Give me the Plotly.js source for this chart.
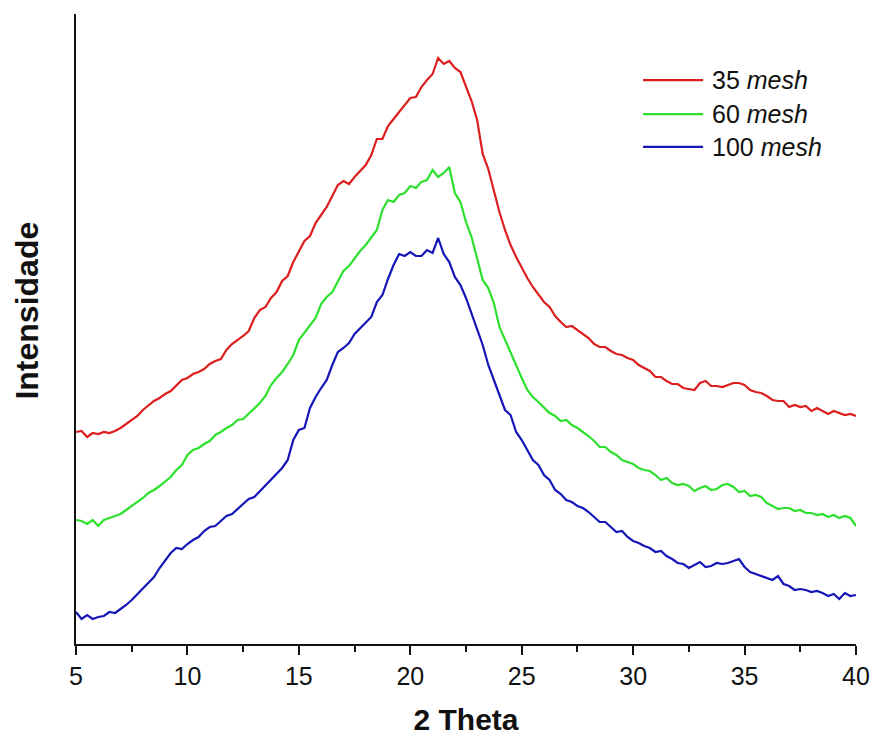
<!DOCTYPE html>
<html>
<head>
<meta charset="utf-8">
<script src="https://cdn.plot.ly/plotly-3.0.1.min.js"></script>
<style>html,body{margin:0;padding:0;background:#fff;}#chart{width:871px;height:740px;}</style>
</head>
<body>
<div id="chart"></div>
<script>
// 2 Theta values (degrees), 0.25 step from 5 to 40
var twoTheta = [];
for (var k = 0; k <= 140; k++) { twoTheta.push(5 + k * 0.25); }

// Intensity (arbitrary units, curves offset for display)
var mesh35 = [212,213,207,211,210,212,211,213,216,220,224,228,
  234,239,243,246,250,253,259,264,266,270,272,275,
  280,283,285,294,300,304,308,313,326,334,337,346,
  352,363,368,382,392,403,408,421,429,437,448,459,
  463,460,467,473,479,489,505,505,518,525,532,540,
  546,547,557,564,570,586,580,583,576,572,557,543,
  524,490,475,454,432,414,399,387,376,366,357,349,
  342,337,328,322,317,318,314,310,306,300,297,297,
  293,290,289,286,284,279,276,273,267,267,263,260,
  260,256,255,254,261,263,258,258,257,259,261,261,
  259,254,252,251,248,244,243,243,237,239,237,238,
  233,236,233,230,233,231,229,230,228];
var mesh60 = [124,123,120,124,118,124,126,128,130,134,138,142,
  146,151,154,158,163,167,174,179,189,194,196,200,
  203,209,212,216,219,224,225,230,236,241,248,259,
  266,272,280,289,304,311,319,326,340,347,352,362,
  373,378,386,393,399,407,414,434,444,442,449,451,
  458,456,462,464,474,467,471,477,451,442,422,407,
  386,364,356,341,317,304,292,278,266,254,247,242,
  237,231,228,223,224,219,216,212,208,203,197,197,
  192,189,184,182,180,176,174,173,169,164,166,161,
  159,160,158,153,156,158,154,155,159,160,157,152,
  153,148,149,147,141,138,135,136,136,133,134,131,
  131,129,130,127,129,126,128,126,118];
var mesh100 = [32,25,29,25,27,28,32,31,35,39,44,50,
  56,62,67,76,84,91,96,95,100,104,107,113,
  117,118,123,128,130,135,141,145,147,153,158,164,
  171,176,184,204,214,216,236,247,256,264,279,292,
  296,301,310,316,322,327,342,349,365,379,390,388,
  392,388,388,394,391,406,390,382,367,359,346,330,
  314,299,279,263,249,234,229,212,204,194,184,179,
  169,164,154,150,144,142,138,136,132,127,122,122,
  117,112,113,107,103,101,98,96,92,93,88,85,
  81,80,76,79,82,77,78,81,80,81,83,85,
  77,72,70,68,66,64,68,60,58,54,55,54,
  52,53,51,48,50,45,51,48,49];

var seriesNames = ['35', '60', '100'];
var seriesData = [mesh35, mesh60, mesh100];
var seriesColors = ['#dc1e1e', '#2ee02e', '#1515b8'];
var fontFam = 'Liberation Sans, Arial, sans-serif';

var traces = seriesData.map(function(y, i){
  return {x: twoTheta, y: y, type: 'scatter', mode: 'lines', name: seriesNames[i] + ' mesh',
          line: {color: seriesColors[i], width: 2.2}, showlegend: false};
});

// manual legend (paper coordinates)
var legRowsY = [0.895, 0.841, 0.789];
var shapes = [], annotations = [];
seriesNames.forEach(function(n, i){
  shapes.push({type:'line', xref:'paper', yref:'paper', x0:0.727, x1:0.804, y0:legRowsY[i], y1:legRowsY[i],
               line:{color:seriesColors[i], width:2.2}});
  annotations.push({xref:'paper', yref:'paper', x:0.813, y:legRowsY[i], xanchor:'left', yanchor:'middle',
                    text: n + ' <i>mesh</i>', showarrow:false,
                    font:{family:fontFam, size:25, color:'#111'}});
});
// y-axis title
annotations.push({xref:'paper', yref:'paper', x:-0.063, y:0.529, xanchor:'center', yanchor:'middle',
                  textangle:-90, showarrow:false, text:'<b>Intensidade</b>',
                  font:{family:fontFam, size:32, color:'#111'}});

var layout = {
  width: 871, height: 740,
  margin: {l: 76, r: 15, t: 14, b: 96, pad: 0},
  paper_bgcolor: '#fff', plot_bgcolor: '#fff',
  font: {family: fontFam, color: '#111'},
  xaxis: {
    range: [5, 40], dtick: 5, tick0: 5,
    showline: true, linecolor: '#111', linewidth: 2,
    ticks: 'outside', ticklen: 9, tickwidth: 2, tickcolor: '#111',
    minor: {dtick: 2.5, ticks: 'outside', ticklen: 6, tickwidth: 2, tickcolor: '#111'},
    showgrid: false, zeroline: false,
    tickfont: {size: 25, family: fontFam, color: '#111'},
    title: {text: '<b>2 Theta</b>', font: {size: 30, family: fontFam, color: '#111'}, standoff: 20}
  },
  yaxis: {
    range: [0, 630],
    showline: true, linecolor: '#111', linewidth: 2,
    ticks: '', showticklabels: false, showgrid: false, zeroline: false
  },
  shapes: shapes,
  annotations: annotations,
  showlegend: false
};

Plotly.newPlot('chart', traces, layout, {displayModeBar: false, staticPlot: true});
</script>
</body>
</html>
